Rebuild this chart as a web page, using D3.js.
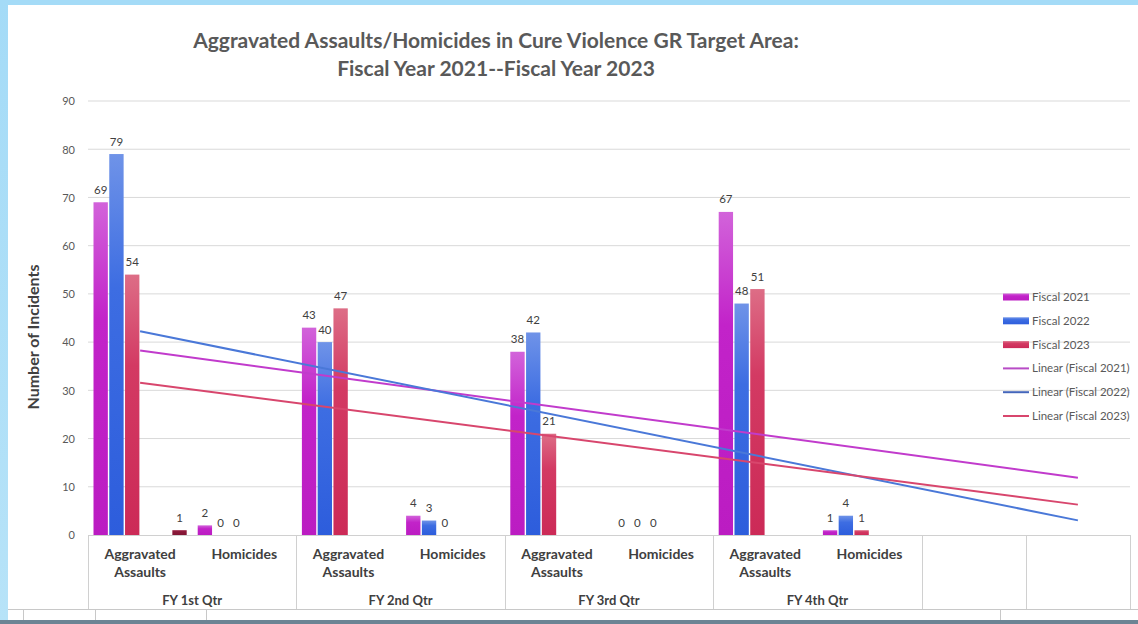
<!DOCTYPE html>
<html>
<head>
<meta charset="utf-8">
<script src="https://cdn.jsdelivr.net/npm/d3@7"></script>
<style>
  html, body { margin: 0; padding: 0; background: #ffffff; }
  svg { display: block; }
  text { font-family: Lato, "Open Sans", "Liberation Sans", sans-serif; }
</style>
</head>
<body>
<svg id="chart" width="1138" height="624"></svg>
<script>
// ---------------- DATA ----------------
const quarters = ["FY 1st Qtr", "FY 2nd Qtr", "FY 3rd Qtr", "FY 4th Qtr", "", ""];
const subCategories = ["Aggravated Assaults", "Homicides", "Aggravated Assaults", "Homicides",
                       "Aggravated Assaults", "Homicides", "Aggravated Assaults", "Homicides", "", ""];
const groupOfCategory = [0, 0, 1, 1, 2, 2, 3, 3, 4, 5];
const fiscal2021 = [69, 2, 43, 4, 38, 0, 67, 1, null, null];
const fiscal2022 = [79, 0, 40, 3, 42, 0, 48, 4, null, null];
const fiscal2023 = [54, 0, 47, 0, 21, 0, 51, 1, null, null];
const extraA = [null, null, null, null, null, null, null, null, null, null];
const extraB = [null, null, null, null, null, null, null, null, null, null];
const extraC = [1, null, null, null, null, null, null, null, null, null];
const yTicks = [0, 10, 20, 30, 40, 50, 60, 70, 80, 90];
const barSeriesNames = ["Fiscal 2021", "Fiscal 2022", "Fiscal 2023", "x4", "x5", "x6"];
const legendNames = ["Fiscal 2021", "Fiscal 2022", "Fiscal 2023",
                     "Linear (Fiscal 2021)", "Linear (Fiscal 2022)", "Linear (Fiscal 2023)"];

// ---------------- SETUP ----------------
const svg = d3.select("#chart");
const W = 1138, H = 624;
const plot = { left: 88, right: 1130, top: 101, bottom: 535 };

// frame
svg.append("rect").attr("x", 0).attr("y", 0).attr("width", W).attr("height", H).attr("fill", "#ffffff");
const defs = svg.append("defs");
const fg = defs.append("linearGradient").attr("id", "frameG").attr("x1", 0).attr("y1", 0).attr("x2", 0).attr("y2", 1);
fg.append("stop").attr("offset", "0%").attr("stop-color", "#a4dbf7");
fg.append("stop").attr("offset", "100%").attr("stop-color", "#b7e3f8");
svg.append("rect").attr("x", 0).attr("y", 0).attr("width", W).attr("height", 5).attr("fill", "#a4dbf7");
svg.append("rect").attr("x", 0).attr("y", 0).attr("width", 8).attr("height", H).attr("fill", "url(#frameG)");

const x = d3.scaleBand().domain(d3.range(subCategories.length)).range([plot.left, plot.right]).padding(0);
const xs = d3.scaleBand().domain(barSeriesNames).range([5.5, x.bandwidth() - 5.5]).paddingInner(0.09);
const y = d3.scaleLinear().domain([0, 90]).range([plot.bottom, plot.top]);

// gridlines
svg.append("g").selectAll("line").data(yTicks.filter(d => d > 0)).join("line")
  .attr("x1", plot.left).attr("x2", plot.right)
  .attr("y1", d => y(d)).attr("y2", d => y(d))
  .attr("stroke", "#d9d9d9").attr("stroke-width", 1);

// y axis labels
const yAxis = d3.axisLeft(y).tickValues(yTicks).tickSize(0).tickPadding(0);
const yg = svg.append("g").attr("transform", `translate(${plot.left - 13},0)`).call(yAxis);
yg.select(".domain").remove();
yg.selectAll("text").attr("fill", "#595959").style("font-size", "11px").attr("dy", "0.35em");

// gradients for bars
const gradSpec = {
  "Fiscal 2021": ["#d263da", "#c223c9", "#bb1cc2"],
  "Fiscal 2022": ["#6f93e8", "#3d6de2", "#2d5ddc"],
  "Fiscal 2023": ["#dd6d86", "#d33a63", "#cc2a57"],
  "x6": ["#9a2446", "#8a1839", "#801534"]
};
Object.entries(gradSpec).forEach(([k, c], i) => {
  const g = defs.append("linearGradient").attr("id", "bg" + i).attr("x1", 0).attr("y1", 0).attr("x2", 0).attr("y2", 1);
  g.append("stop").attr("offset", "0%").attr("stop-color", c[0]);
  g.append("stop").attr("offset", "35%").attr("stop-color", c[1]);
  g.append("stop").attr("offset", "100%").attr("stop-color", c[2]);
});
const gradId = { "Fiscal 2021": "bg0", "Fiscal 2022": "bg1", "Fiscal 2023": "bg2", "x6": "bg3" };

const seriesData = [fiscal2021, fiscal2022, fiscal2023, extraA, extraB, extraC];
const barRecords = [];
seriesData.forEach((arr, si) => {
  arr.forEach((v, ci) => {
    if (v !== null) barRecords.push({ s: barSeriesNames[si], c: ci, v: v });
  });
});

// bars
svg.append("g").selectAll("rect").data(barRecords.filter(d => d.v > 0)).join("rect")
  .attr("x", d => x(d.c) + xs(d.s))
  .attr("width", xs.bandwidth())
  .attr("y", d => y(d.v))
  .attr("height", d => y(0) - y(d.v))
  .attr("fill", d => `url(#${gradId[d.s]})`);

// data labels
svg.append("g").selectAll("text").data(barRecords).join("text")
  .attr("x", d => x(d.c) + xs(d.s) + xs.bandwidth() / 2)
  .attr("y", d => y(d.v) - 8.5)
  .attr("text-anchor", "middle")
  .attr("fill", "#404040")
  .style("font-size", "11.5px")
  .text(d => d.v);

// trendlines (linear regression of each series, as in the original)
const trendColors = ["#c13bcc", "#4a78d8", "#d8466d"];
const catIdx = d3.range(subCategories.length);
[fiscal2021, fiscal2022, fiscal2023].forEach((arr, si) => {
  const pts = arr.map((v, i) => [i + 1, v]).filter(p => p[1] !== null);
  const mx = d3.mean(pts, p => p[0]), my = d3.mean(pts, p => p[1]);
  const slope = d3.sum(pts, p => (p[0] - mx) * (p[1] - my)) / d3.sum(pts, p => (p[0] - mx) ** 2);
  const f = t => my + slope * (t - mx);
  const ends = [catIdx[0], catIdx[catIdx.length - 1]];
  svg.append("line")
    .attr("x1", x(ends[0]) + x.bandwidth() / 2).attr("y1", y(f(ends[0] + 1)))
    .attr("x2", x(ends[1]) + x.bandwidth() / 2).attr("y2", y(f(ends[1] + 1)))
    .attr("stroke", trendColors[si]).attr("stroke-width", 2);
});

// category axis
const axisG = svg.append("g");
axisG.append("line").attr("x1", plot.left).attr("x2", plot.right).attr("y1", plot.bottom + 0.5).attr("y2", plot.bottom + 0.5)
  .attr("stroke", "#d0d0d0");
const groupBounds = [];
quarters.forEach((q, gi) => {
  const cats = catIdx.filter(c => groupOfCategory[c] === gi);
  groupBounds.push({ q: q, x0: x(cats[0]), x1: x(cats[cats.length - 1]) + x.bandwidth() });
});
const edges = [groupBounds[0].x0].concat(groupBounds.map(g => g.x1));
axisG.selectAll("line.sep").data(edges).join("line").attr("class", "sep")
  .attr("x1", d => Math.round(d) + 0.5).attr("x2", d => Math.round(d) + 0.5)
  .attr("y1", plot.bottom).attr("y2", 609)
  .attr("stroke", "#d0d0d0");
catIdx.forEach(ci => {
  const words = subCategories[ci] ? subCategories[ci].split(" ") : [];
  const t = axisG.append("text").attr("text-anchor", "middle").attr("fill", "#404040")
    .style("font-size", "14px").style("font-weight", "bold");
  words.forEach((w, wi) => {
    t.append("tspan").attr("x", x(ci) + x.bandwidth() / 2).attr("y", 559 + wi * 18).text(w);
  });
});
axisG.selectAll("text.grp").data(groupBounds).join("text").attr("class", "grp")
  .attr("x", d => (d.x0 + d.x1) / 2).attr("y", 605)
  .attr("text-anchor", "middle").attr("fill", "#404040")
  .style("font-size", "13px").style("font-weight", "bold")
  .text(d => d.q);

// y axis title
svg.append("text")
  .attr("transform", "translate(38.5,337) rotate(-90)")
  .attr("text-anchor", "middle").attr("fill", "#404040")
  .style("font-size", "16px").style("font-weight", "bold")
  .text("Number of Incidents");

// title
const title = svg.append("text").attr("text-anchor", "middle").attr("fill", "#595959")
  .style("font-size", "21px").style("font-weight", "bold");
title.append("tspan").attr("x", 496).attr("y", 48).text("Aggravated Assaults/Homicides in Cure Violence GR Target Area:");
title.append("tspan").attr("x", 496).attr("y", 76).text("Fiscal Year 2021--Fiscal Year 2023");

// legend
const legendColors = ["#c424cc", "#3a6be0", "#d33a63", "#b84cc6", "#4466bb", "#d8466d"];
const lg = svg.append("g");
legendNames.forEach((name, i) => {
  const cy = 297 + i * 23.8;
  if (i < 3) {
    lg.append("rect").attr("x", 1003).attr("y", cy - 3.5).attr("width", 26).attr("height", 7)
      .attr("fill", `url(#bg${i})`);
  } else {
    lg.append("line").attr("x1", 1003).attr("x2", 1029).attr("y1", cy).attr("y2", cy)
      .attr("stroke", legendColors[i]).attr("stroke-width", 2);
  }
  lg.append("text").attr("x", 1032).attr("y", cy).attr("dy", "0.35em")
    .attr("fill", "#595959").style("font-size", "11.5px").text(name);
});

// bottom toolbar strip (screenshot artifact)
svg.append("line").attr("x1", 8).attr("x2", W).attr("y1", 609.5).attr("y2", 609.5).attr("stroke", "#c8c8c8");
[23, 95, 206, 1000].forEach(xx => {
  svg.append("line").attr("x1", xx + 0.5).attr("x2", xx + 0.5).attr("y1", 610).attr("y2", 620).attr("stroke", "#c8c8c8");
});
svg.append("rect").attr("x", 0).attr("y", 620).attr("width", W).attr("height", 4).attr("fill", "#6c8494");
</script>
</body>
</html>
